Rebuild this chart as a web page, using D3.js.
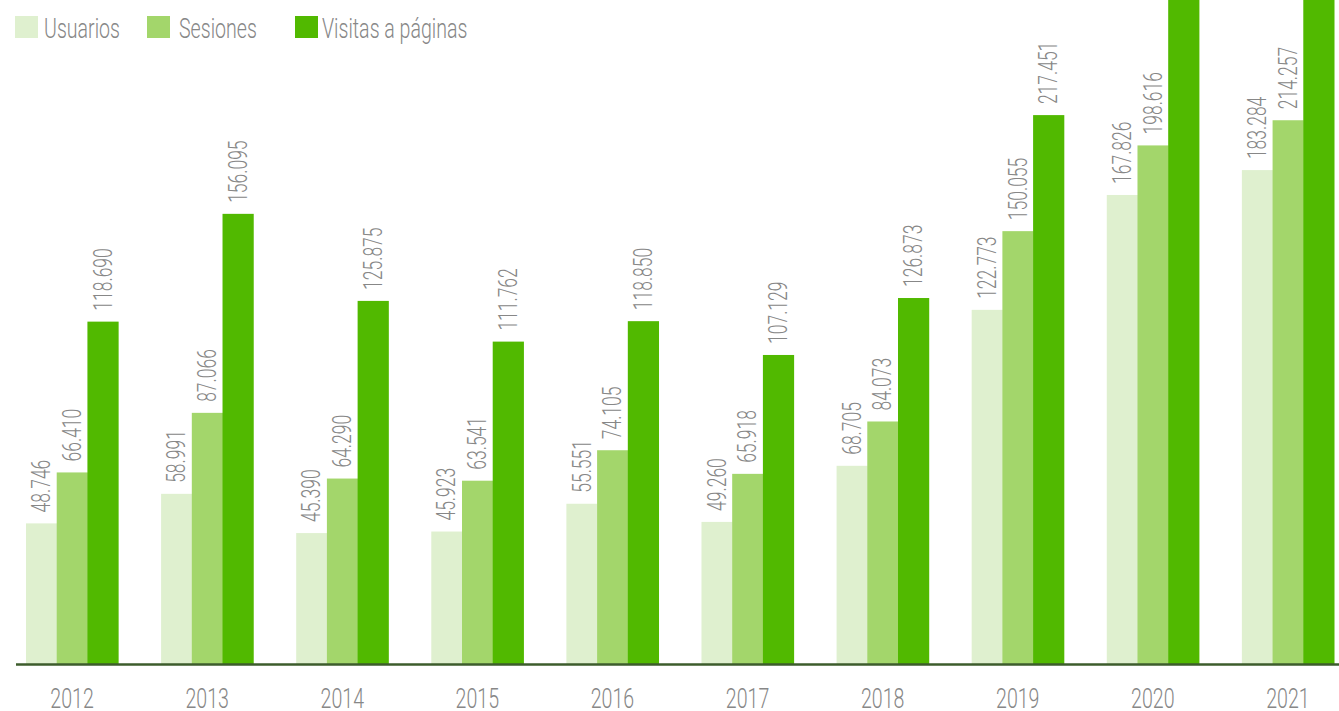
<!DOCTYPE html>
<html>
<head>
<meta charset="utf-8">
<script src="https://cdn.jsdelivr.net/npm/d3@7"></script>
<style>
    body { margin: 0; background: #fff; }
    #chart-area { width: 1339px; height: 711px; overflow: hidden; }
    text { font-family: Roboto, "Open Sans", sans-serif; font-weight: 300; fill: #878787; }
</style>
</head>
<body>
<div id="chart-area"></div>
<script>

// data (2020/2021 page visits are cut off -> estimated)
let years = ["2012", "2013", "2014", "2015", "2016", "2017", "2018", "2019", "2020", "2021"];
let seriesNames = ["Usuarios", "Sesiones", "Visitas a páginas"];
let usuarios = [48746, 58991, 45390, 45923, 55551, 49260, 68705, 122773, 167826, 183284];
let sesiones = [66410, 87066, 64290, 63541, 74105, 65918, 84073, 150055, 198616, 214257];
let visitas = [118690, 156095, 125875, 111762, 118850, 107129, 126873, 217451, 300000, 320000];
let hiddenLabels = ["2020-Visitas a páginas", "2021-Visitas a páginas"];


class GroupedBars {

    constructor(parentElement) {
        this.parentElement = parentElement;

        // define colors
        this.colors = ["#dff0cf", "#a3d66b", "#51b900"];

        this.initVis();
    }

    initVis() {
        let vis = this;

        vis.width = 1339;
        vis.height = 711;
        vis.baseline = 664;

        vis.svg = d3.select("#" + vis.parentElement).append("svg")
            .attr("width", vis.width)
            .attr("height", vis.height);

        // scales
        vis.x = d3.scaleBand()
            .domain(years)
            .range([16, 1344])
            .paddingInner(0.318)
            .paddingOuter(0.074);

        vis.xSub = d3.scaleBand()
            .domain(seriesNames)
            .range([0, vis.x.bandwidth()]);

        // the original bars are not drawn to one constant ratio, upper part is squeezed
        vis.y = d3.scaleLinear()
            .domain([0, 156000, 220000])
            .range([vis.baseline, 214, 111]);

        vis.color = d3.scaleOrdinal()
            .domain(seriesNames)
            .range(vis.colors);

        vis.format = d3.formatLocale({decimal: ",", thousands: ".", grouping: [3], currency: ["", "€"]}).format(",d");

        vis.wrangleData();
    }

    wrangleData() {
        let vis = this;

        let all = [usuarios, sesiones, visitas];
        vis.displayData = years.map((year, i) => ({
            year: year,
            values: seriesNames.map((name, j) => ({year: year, key: name, value: all[j][i]}))
        }));

        vis.updateVis();
    }

    updateVis() {
        let vis = this;

        let groups = vis.svg.selectAll(".year-group")
            .data(vis.displayData)
            .enter()
            .append("g")
            .attr("class", "year-group")
            .attr("transform", d => `translate(${vis.x(d.year)},0)`);

        groups.selectAll("rect")
            .data(d => d.values)
            .enter()
            .append("rect")
            .attr("x", d => vis.xSub(d.key))
            .attr("y", d => vis.y(d.value))
            .attr("width", vis.xSub.bandwidth() + 0.5)
            .attr("height", d => vis.baseline - vis.y(d.value))
            .attr("fill", d => vis.color(d.key));

        // rotated value labels
        groups.selectAll(".value-label")
            .data(d => d.values.filter(v => !hiddenLabels.includes(v.year + "-" + v.key)))
            .enter()
            .append("text")
            .attr("class", "value-label")
            .attr("transform", d => `translate(${vis.xSub(d.key) + vis.xSub.bandwidth() / 2},${vis.y(d.value) - 11}) rotate(-90) scale(0.7,1)`)
            .attr("dy", "0.35em")
            .style("font-size", "25px")
            .text(d => vis.format(d.value));

        // axis line
        vis.svg.append("line")
            .attr("x1", 16)
            .attr("x2", vis.width)
            .attr("y1", vis.baseline + 0.5)
            .attr("y2", vis.baseline + 0.5)
            .attr("stroke", "#3d5c2c")
            .attr("stroke-width", 2.5);

        // year labels
        vis.svg.selectAll(".year-label")
            .data(years)
            .enter()
            .append("text")
            .attr("class", "year-label")
            .attr("text-anchor", "middle")
            .attr("transform", d => `translate(${vis.x(d) + vis.x.bandwidth() / 2},708) scale(0.7,1)`)
            .style("font-size", "28px")
            .text(d => d);

        // legend
        let legendX = [15, 147, 295];
        let legend = vis.svg.selectAll(".legend-item")
            .data(seriesNames)
            .enter()
            .append("g")
            .attr("class", "legend-item")
            .attr("transform", (d, i) => `translate(${legendX[i]},16)`);

        legend.append("rect")
            .attr("width", 23)
            .attr("height", 22)
            .attr("fill", d => vis.color(d));

        legend.append("text")
            .attr("transform", (d, i) => `translate(${[29, 32, 27][i]},22) scale(0.7,1)`)
            .style("font-size", "28px")
            .text(d => d);
    }
}

new GroupedBars("chart-area");

</script>
</body>
</html>
